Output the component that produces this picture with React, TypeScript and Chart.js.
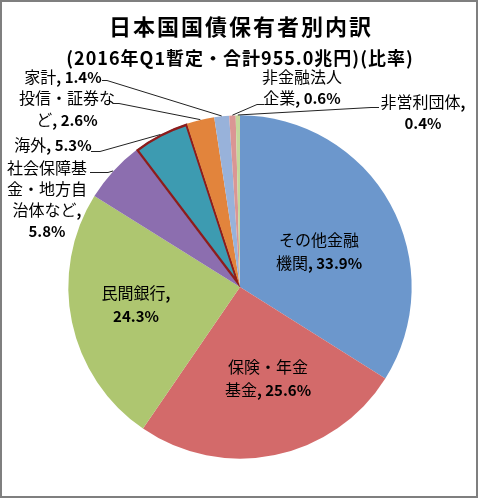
import React, { useEffect, useRef } from "react";
import { Chart, registerables } from "chart.js";

Chart.register(...registerables);

const titleText = "日本国国債保有者別内訳";
const subtitleText = "(2016年Q1暫定・合計955.0兆円)(比率)";

const categories = [
  "その他金融機関",
  "保険・年金基金",
  "民間銀行",
  "社会保障基金・地方自治体など",
  "海外",
  "投信・証券など",
  "家計",
  "非金融法人企業",
  "非営利団体",
];

const values = [33.9, 25.6, 24.3, 5.8, 5.3, 2.6, 1.4, 0.6, 0.4];

const colors = [
  "#6C97CC",
  "#D36A6A",
  "#AEC670",
  "#8C6EAF",
  "#3D9BB1",
  "#E2843C",
  "#98B2DA",
  "#DA9694",
  "#C4D79B",
];

// where each label text wraps (character indices into "name, value%")
const labelBreaks: number[][] = [[5], [5], [5], [5, 10, 15], [], [6], [], [5], [6]];

// label layout: center x, first line center y, line height
const labelPos: [number, number, number][] = [
  [319, 240, 23],
  [268, 367, 23],
  [136, 293, 23],
  [47, 168, 21],
  [53, 145, 21],
  [67, 98, 22],
  [63, 77, 21],
  [302, 77, 21],
  [423, 102, 21],
];

// leader lines: [startX, startY, elbowX] or null
const leaders: ([number, number, number] | null)[] = [
  null,
  null,
  null,
  [90, 172, 108],
  [91, 151, 100],
  [113, 103, 119],
  [102, 80, 107],
  [264, 104, 257],
  [379, 107, 371],
];

const JP_FONT = "16px 'Noto Sans CJK JP'";
const NUM_FONT = "bold 15px 'Noto Sans CJK JP'";

function splitLines(text: string, breaks: number[]): string[] {
  const out: string[] = [];
  let prev = 0;
  for (const b of breaks) {
    out.push(text.slice(prev, b).trim());
    prev = b;
  }
  out.push(text.slice(prev).trim());
  return out;
}

function drawMixed(ctx: CanvasRenderingContext2D, text: string, cx: number, cy: number) {
  const runs: { t: string; f: string }[] = [];
  const re = /[\x00-\x7F]+|[^\x00-\x7F]+/g;
  let m: RegExpExecArray | null;
  while ((m = re.exec(text))) {
    const t = m[0];
    runs.push({ t, f: /[\x00-\x7F]/.test(t[0]) ? NUM_FONT : JP_FONT });
  }
  let total = 0;
  const widths = runs.map((r) => {
    ctx.font = r.f;
    const w = ctx.measureText(r.t).width;
    total += w;
    return w;
  });
  let x = cx - total / 2;
  ctx.textAlign = "left";
  ctx.textBaseline = "middle";
  ctx.fillStyle = "#000";
  runs.forEach((r, i) => {
    ctx.font = r.f;
    ctx.fillText(r.t, x, cy);
    x += widths[i];
  });
}

const decorPlugin = {
  id: "decor",
  beforeDraw(chart: any) {
    const ctx = chart.ctx as CanvasRenderingContext2D;
    ctx.save();
    ctx.fillStyle = "#fff";
    ctx.fillRect(0, 0, chart.width, chart.height);
    ctx.restore();
  },
  afterDraw(chart: any) {
    const ctx = chart.ctx as CanvasRenderingContext2D;
    ctx.save();
    // frame
    ctx.strokeStyle = "#7f7f7f";
    ctx.lineWidth = 2;
    ctx.strokeRect(1, 1, 476, 496);

    // titles
    ctx.fillStyle = "#000";
    ctx.textAlign = "center";
    ctx.textBaseline = "middle";
    (ctx as any).letterSpacing = "2px";
    ctx.font = "bold 22px 'Noto Sans CJK JP'";
    ctx.fillText(titleText, 241, 27);
    (ctx as any).letterSpacing = "1px";
    ctx.font = "bold 18px 'Noto Sans CJK JP'";
    ctx.fillText(subtitleText, 240, 58);
    (ctx as any).letterSpacing = "0px";

    const meta = chart.getDatasetMeta(0);
    // leader lines
    ctx.strokeStyle = "#222";
    ctx.lineWidth = 1;
    meta.data.forEach((arc: any, i: number) => {
      const ld = leaders[i];
      if (!ld) return;
      const p = arc.getProps(["x", "y", "startAngle", "endAngle", "outerRadius"], true);
      const mid = (p.startAngle + p.endAngle) / 2;
      const ex = p.x + Math.cos(mid) * p.outerRadius;
      const ey = p.y + Math.sin(mid) * p.outerRadius;
      ctx.beginPath();
      ctx.moveTo(ld[0], ld[1] + 0.5);
      ctx.lineTo(ld[2], ld[1] + 0.5);
      ctx.lineTo(ex, ey);
      ctx.stroke();
    });

    // labels
    categories.forEach((c, i) => {
      const full = `${c}, ${values[i].toFixed(1)}%`;
      const lines = splitLines(full, labelBreaks[i]);
      const [x, y, lh] = labelPos[i];
      lines.forEach((ln, j) => drawMixed(ctx, ln, x, y + j * lh));
    });
    ctx.restore();
  },
};

export default function App() {
  const ref = useRef<HTMLCanvasElement | null>(null);
  useEffect(() => {
    if (!ref.current) return;
    const chart = new Chart(ref.current, {
      type: "pie",
      data: {
        labels: categories,
        datasets: [
          {
            data: values,
            backgroundColor: colors,
            borderColor: colors.map((c, i) => (i === 4 ? "#8E1C1C" : c)),
            borderWidth: colors.map((_, i) => (i === 4 ? 2 : 0)),
            borderAlign: "inner",
          } as any,
        ],
      },
      options: {
        animation: false,
        responsive: false,
        layout: { padding: { left: 68, right: 69, top: 115, bottom: 40 } },
        plugins: {
          legend: { display: false },
          tooltip: { enabled: false },
          title: { display: false },
        },
      },
      plugins: [decorPlugin],
    });
    return () => chart.destroy();
  }, []);
  return (
    <div style={{ position: "fixed", left: 0, top: 0, width: 481, height: 499 }}>
      <canvas ref={ref} width={481} height={499} style={{ display: "block" }} />
    </div>
  );
}
